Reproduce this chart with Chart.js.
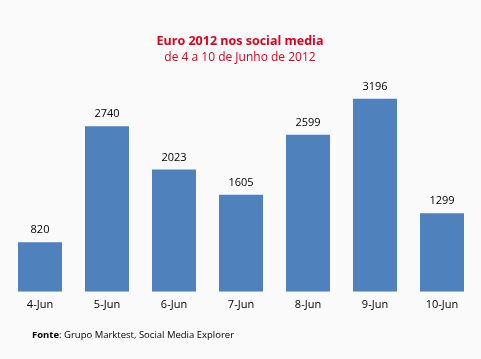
<!DOCTYPE html>
<html><head><meta charset="utf-8">
<script src="https://cdn.jsdelivr.net/npm/chart.js@4/dist/chart.umd.min.js"></script>
<style>html,body{margin:0;padding:0;background:#fafafa;}#wrap{width:481px;height:359px;}</style>
</head><body><div id="wrap"><canvas id="c" width="481" height="359"></canvas></div>
<script>
const categories = ["4-Jun","5-Jun","6-Jun","7-Jun","8-Jun","9-Jun","10-Jun"];
const values = [820, 2740, 2023, 1605, 2599, 3196, 1299];
const titleText = "Euro 2012 nos social media";
const subtitleText = "de 4 a 10 de Junho de 2012";
const sourceLabel = "Fonte";
const sourceText = ": Grupo Marktest, Social Media Explorer";
const FONT = "'Open Sans', 'Liberation Sans', sans-serif";

const decor = {
  id: 'decor',
  beforeDraw(chart){
    const ctx = chart.ctx;
    ctx.save();
    ctx.fillStyle = '#fafafa';
    ctx.fillRect(0,0,chart.width,chart.height);
    ctx.restore();
  },
  afterDatasetsDraw(chart){
    const ctx = chart.ctx;
    const meta = chart.getDatasetMeta(0);
    ctx.save();
    ctx.font = "11px " + FONT;
    ctx.fillStyle = '#000';
    ctx.textAlign = 'center';
    ctx.textBaseline = 'middle';
    meta.data.forEach((bar, i) => {
      ctx.fillText(String(values[i]), bar.x, bar.y - 12);
    });
    ctx.restore();
  },
  afterDraw(chart){
    const ctx = chart.ctx;
    ctx.save();
    ctx.textAlign = 'center';
    ctx.textBaseline = 'middle';
    ctx.fillStyle = '#e0001b';
    ctx.font = "bold 12.5px " + FONT;
    ctx.fillText(titleText, 240, 41);
    ctx.font = "12px " + FONT;
    ctx.fillText(subtitleText, 240, 58);
    ctx.textAlign = 'left';
    ctx.fillStyle = '#000';
    ctx.font = "bold 9.5px " + FONT;
    ctx.fillText(sourceLabel, 32, 335);
    const w = ctx.measureText(sourceLabel).width;
    ctx.font = "9.5px " + FONT;
    ctx.fillText(sourceText, 32 + w, 335);
    ctx.restore();
  }
};

new Chart(document.getElementById('c'), {
  type: 'bar',
  data: {
    labels: categories,
    datasets: [{
      data: values,
      backgroundColor: '#4f81bd',
      borderWidth: 0,
      categoryPercentage: 1,
      barPercentage: 0.657
    }]
  },
  options: {
    responsive: false,
    animation: false,
    devicePixelRatio: 1,
    layout: { padding: { left: 6.5, right: 5.5, top: 80, bottom: 42 } },
    plugins: { legend: { display: false }, tooltip: { enabled: false }, title: { display: false } },
    scales: {
      x: {
        grid: { display: false, drawTicks: false },
        border: { display: false },
        ticks: { color: '#000', font: { family: FONT, size: 11 }, padding: 6, maxRotation: 0 }
      },
      y: { display: false, min: 0, max: 3505 }
    }
  },
  plugins: [decor]
});
</script></body></html>
